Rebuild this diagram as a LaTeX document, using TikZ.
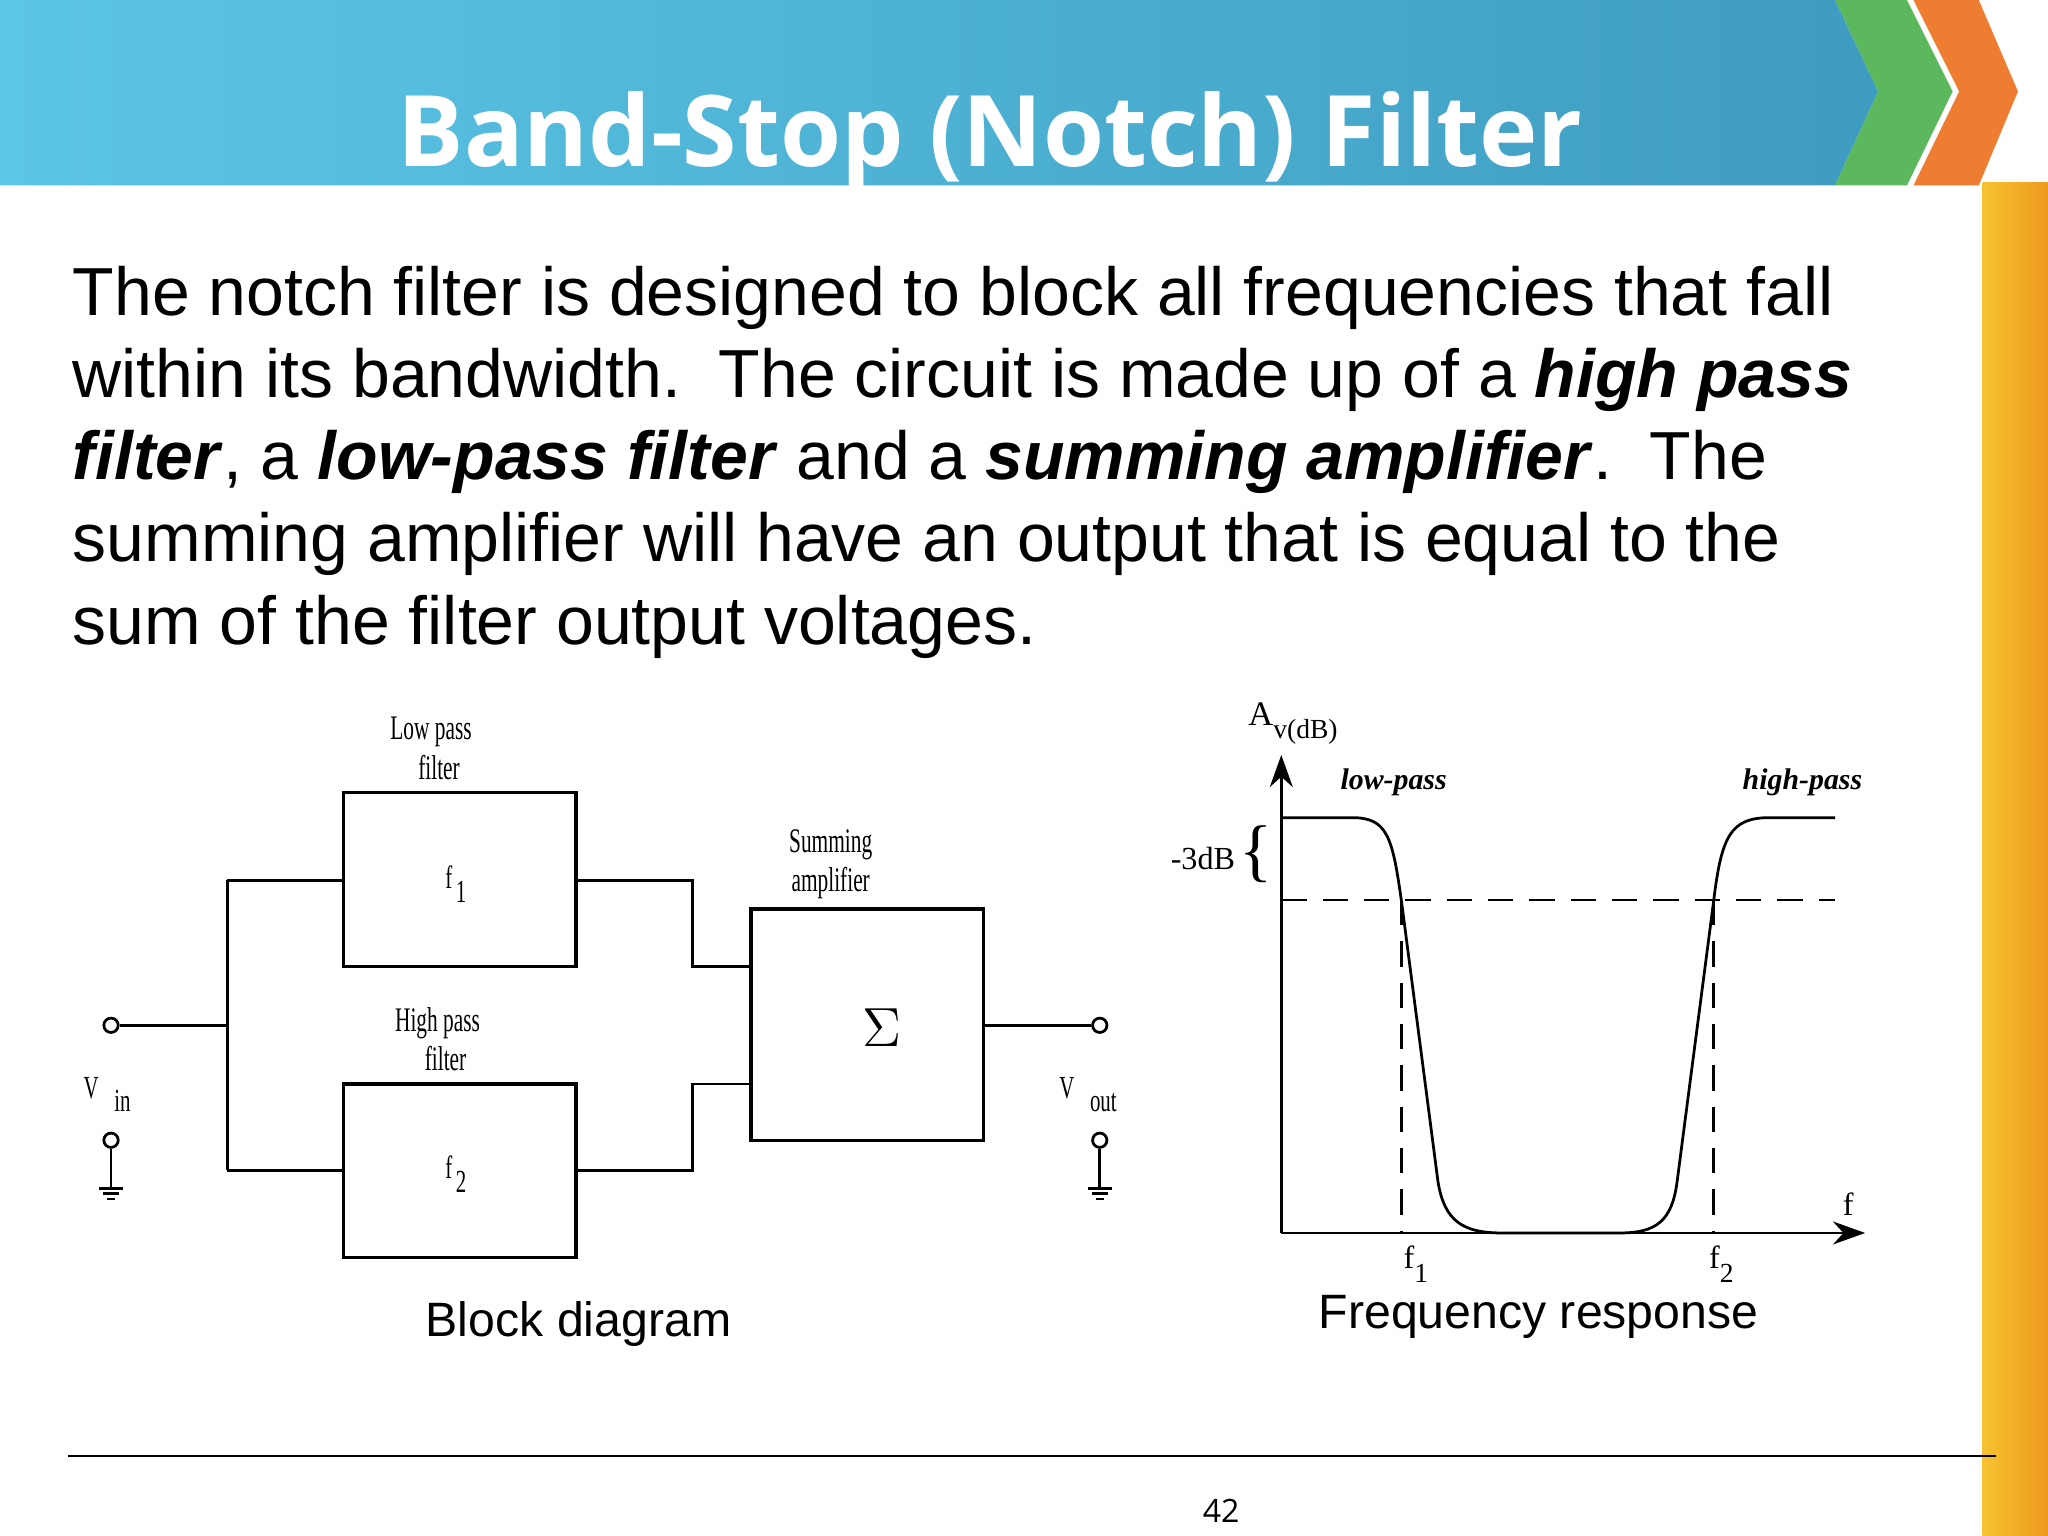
\documentclass[tikz,border=0pt]{standalone}
\usepackage{fontspec}
\setmainfont{Liberation Sans}
\newfontfamily\titlefont{Open Sans}
\newfontfamily\serifc{Liberation Serif}
\usetikzlibrary{arrows.meta,decorations.pathreplacing}
\definecolor{barL}{HTML}{5CC6E6}
\definecolor{barR}{HTML}{3E9CC0}
\definecolor{chevG}{HTML}{5CB85C}
\definecolor{chevO}{HTML}{EE7D31}
\definecolor{stripL}{HTML}{F6C230}
\definecolor{stripR}{HTML}{EE9A1E}
\begin{document}
\begin{tikzpicture}[x=0.01cm,y=-0.01cm,
  blk/.style={draw,line width=0.7pt},
  wire/.style={line width=0.6pt},
  term/.style={draw,circle,inner sep=0pt,minimum size=0.11cm,line width=0.6pt,fill=white},
  small/.style={font=\serifc\fontsize{7.5}{8.5}\selectfont,xscale=0.62,align=center},
  tiny/.style={font=\serifc\fontsize{7}{8}\selectfont,xscale=0.65},
  captext/.style={font=\fontsize{10.5}{12}\selectfont},
  gl/.style={font=\serifc\fontsize{7}{8}\selectfont},
  dsh/.style={wire,dash pattern=on 5.5pt off 3.5pt}]
\useasboundingbox (0,0) rectangle (1568,1176);
\fill[white] (0,0) rectangle (1568,1176);
% right strip
\shade[left color=stripL, right color=stripR] (1518,140) rectangle (1568,1176);
% title bar
\shade[left color=barL, right color=barR] (0,0) -- (1405,0) -- (1438,70) -- (1405,142) -- (0,142) -- cycle;
\fill[chevG] (1405,0) -- (1460,0) -- (1495,70) -- (1460,142) -- (1405,142) -- (1438,70) -- cycle;
\fill[chevO] (1465,0) -- (1515,0) -- (1545,70) -- (1515,142) -- (1465,142) -- (1500,70) -- cycle;
\node[text=white,font=\titlefont\bfseries\fontsize{21.5}{24}\selectfont] (title) at (758,108) {Band-Stop (Notch) Filter};
% body text
\node[anchor=north west,align=left,inner sep=0pt,font=\fontsize{14.8}{17.9}\selectfont] (body) at (55,203)
{The notch filter is designed to block all frequencies that fall\\
within its bandwidth.\ \ The circuit is made up of a \textbf{\textit{high pass}}\\
\textbf{\textit{filter}}, a \textbf{\textit{low-pass filter}} and a \textbf{\textit{summing amplifier}}.\ \ The\\
summing amplifier will have an output that is equal to the\\
sum of the filter output voltages.};
% block diagram
\draw[blk] (263,607) rectangle (441,740);
\draw[blk] (263,830) rectangle (441,963);
\draw[blk] (575,696) rectangle (753,873);
\node[tiny] (lf1) at (349,677) {f\,\raisebox{-3pt}{\scriptsize 1}};
\node[tiny] (lf2) at (349,899) {f\,\raisebox{-3pt}{\scriptsize 2}};
\node[font=\fontsize{13}{13}\selectfont] (sig) at (675,787) {$\Sigma$};
\node[small] (lpl) at (330,573) {Low pass\\\ \ \ filter};
\node[small] (hpl) at (335,796) {High pass\\\ \ \ filter};
\node[small] (sal) at (636,662) {Summing\\amplifier};
\node[term] (vin) at (85,785) {};
\node[term] (vout) at (842,785) {};
\draw[wire] (vin) -- (174,785);
\draw[wire] (174,674) -- (174,896);
\draw[wire] (174,674) -- (263,674);
\draw[wire] (174,896) -- (263,896);
\draw[wire] (441,674) -- (530,674) -- (530,740) -- (575,740);
\draw[wire] (441,896) -- (530,896) -- (530,830) -- (575,830);
\draw[wire] (753,785) -- (vout);
\foreach \x/\n in {85/ga,842/gb}{
  \node[term] (\n) at (\x,873) {};
  \draw[wire] (\n) -- (\x,910);
  \draw[wire] (\x-9,910) -- (\x+9,910) (\x-6,914) -- (\x+6,914) (\x-3,918) -- (\x+3,918);
}
\node[tiny] (vinl) at (82,838) {V\ \ \ \raisebox{-3pt}{\scriptsize in}};
\node[tiny] (voutl) at (833,838) {V\ \ \ \raisebox{-3pt}{\scriptsize out}};
% frequency response
\draw[wire,-{Stealth[length=7pt,width=5pt]}] (981,944) -- (981,578);
\draw[wire,-{Stealth[length=7pt,width=5pt]}] (981,944) -- (1428,944);
\draw[wire] (981,626) -- (1035,626) .. controls (1062,626) and (1066,640) .. (1073,690) -- (1101,905) .. controls (1106,935) and (1120,944) .. (1150,944) -- (1240,944) .. controls (1268,944) and (1280,935) .. (1284,905) -- (1312,690) .. controls (1318,640) and (1325,626) .. (1355,626) -- (1405,626);
\draw[dsh] (981,689) -- (1405,689);
\draw[dsh] (1073,689) -- (1073,944);
\draw[dsh] (1312,689) -- (1312,944);
\node[font=\serifc\fontsize{7.5}{8}\selectfont] (av) at (990,554) {A\raisebox{-3pt}{\fontsize{6}{7}\selectfont v(dB)}};
\node[font=\serifc\bfseries\itshape\fontsize{6.5}{8}\selectfont] (lp) at (1067,599) {low-pass};
\node[font=\serifc\bfseries\itshape\fontsize{6.5}{8}\selectfont] (hp) at (1380,599) {high-pass};
\node[font=\serifc\fontsize{7}{8}\selectfont] (db) at (921,657) {-3dB};
\node[font=\serifc\fontsize{15}{15}\selectfont] (br) at (962,654) {\{};
\node[gl] (fl) at (1415,922) {f};
\node[gl] (f1l) at (1084,968) {f\raisebox{-3pt}{\fontsize{6}{7}\selectfont 1}};
\node[gl] (f2l) at (1318,968) {f\raisebox{-3pt}{\fontsize{6}{7}\selectfont 2}};
\node[captext] (bd) at (443,1014) {Block diagram};
\node[captext] (fr) at (1178,1008) {Frequency response};
\draw[line width=0.5pt] (52,1115) -- (1528,1115);
\node[font=\titlefont\fontsize{7}{8}\selectfont] (pg) at (935,1157) {42};
\end{tikzpicture}
\end{document}
